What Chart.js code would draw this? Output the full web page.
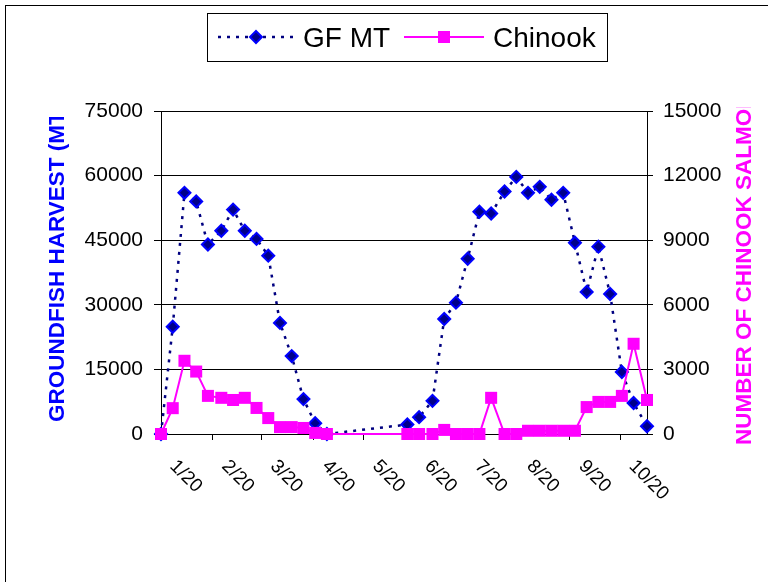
<!DOCTYPE html>
<html>
<head>
<meta charset="utf-8">
<script src="https://cdn.jsdelivr.net/npm/chart.js@4.4.1/dist/chart.umd.min.js"></script>
<style>
  html, body { margin: 0; padding: 0; background: #fff; }
  #wrap { position: relative; width: 768px; height: 582px; }
</style>
</head>
<body>
<div id="wrap"><canvas id="c"></canvas></div>
<script>
// ---- data (day of year, weekly observations) ----
const dayValues = [0, 7, 14, 21, 28, 36, 43, 50, 57, 64, 71, 78, 85, 92, 99,
                   147, 154, 162, 169, 176, 183, 190, 197, 205, 212, 219, 226, 233, 240, 247, 254, 261, 268, 275, 282, 290];
const gfMt = [0, 24900, 56000, 54000, 44000, 47200, 52100, 47200, 45300, 41400, 25800, 18100, 8100, 2500, 0,
              2200, 3900, 7700, 26700, 30500, 40700, 51600, 51200, 56300, 59700, 56000, 57400, 54400, 56000, 44400, 33000, 43500, 32500, 14400, 7200, 1800];
const chinook = [0, 1200, 3400, 2900, 1770, 1680, 1580, 1680, 1210, 740, 320, 320, 280, 50, 0,
                 0, 0, 0, 190, 0, 0, 0, 1680, 0, 0, 150, 150, 150, 150, 150, 1250, 1490, 1490, 1770, 4190, 1580];
const monthTickDays = [0, 31, 60, 91, 121, 152, 182, 213, 244, 274];
const monthLabels = ['1/20', '2/20', '3/20', '4/20', '5/20', '6/20', '7/20', '8/20', '9/20', '10/20'];
const seriesNames = ['GF MT', 'Chinook'];
const leftTitle = 'GROUNDFISH HARVEST (MT)';
const rightTitle = 'NUMBER OF CHINOOK SALMON';

const FONT = "'Liberation Sans', Arial, sans-serif";

const gfPoints = dayValues.map((d, i) => ({ x: d, y: gfMt[i] }));
const chPoints = dayValues.map((d, i) => ({ x: d, y: chinook[i] }));

function diamond(ctx, x, y, r, fill, stroke, lw) {
  ctx.save();
  ctx.beginPath();
  ctx.moveTo(x, y - r); ctx.lineTo(x + r, y); ctx.lineTo(x, y + r); ctx.lineTo(x - r, y); ctx.closePath();
  ctx.fillStyle = fill; ctx.fill();
  ctx.lineWidth = lw; ctx.strokeStyle = stroke; ctx.stroke();
  ctx.restore();
}

const decor = {
  id: 'decor',
  beforeDraw(chart) {
    const ctx = chart.ctx;
    ctx.save();
    ctx.fillStyle = '#fff';
    ctx.fillRect(0, 0, chart.width, chart.height);
    ctx.strokeStyle = '#000';
    ctx.lineWidth = 1;
    ctx.strokeRect(5.5, 5.5, 900, 900);
    ctx.restore();
  },
  afterDraw(chart) {
    const ctx = chart.ctx;
    const xs = chart.scales.x;
    // x tick labels rotated 45deg clockwise
    ctx.save();
    ctx.fillStyle = '#000';
    ctx.font = '19px ' + FONT;
    ctx.textAlign = 'left';
    ctx.textBaseline = 'alphabetic';
    monthTickDays.forEach((d, i) => {
      const px = xs.getPixelForValue(d);
      ctx.save();
      ctx.translate(px + 8, 467);
      ctx.rotate(Math.PI / 4);
      ctx.fillText(monthLabels[i], 0, 0);
      ctx.restore();
    });
    ctx.restore();

    // axis titles (clipped like the original)
    ctx.save();
    ctx.font = 'bold 22.5px ' + FONT;
    ctx.textAlign = 'left';
    ctx.textBaseline = 'middle';
    ctx.save();
    ctx.beginPath(); ctx.rect(0, 117, 140, 400); ctx.clip();
    ctx.translate(58, 422);
    ctx.rotate(-Math.PI / 2);
    ctx.fillStyle = '#0000FF';
    ctx.fillText(leftTitle, 0, 0);
    ctx.restore();
    ctx.save();
    ctx.beginPath(); ctx.rect(700, 107, 68, 400); ctx.clip();
    ctx.translate(745, 445);
    ctx.rotate(-Math.PI / 2);
    ctx.fillStyle = '#FF00FF';
    ctx.fillText(rightTitle, 0, 0);
    ctx.restore();
    ctx.restore();

    // legend
    ctx.save();
    ctx.fillStyle = '#fff';
    ctx.fillRect(207.5, 13.5, 400, 48);
    ctx.strokeStyle = '#000';
    ctx.lineWidth = 1;
    ctx.strokeRect(207.5, 13.5, 400, 48);
    const ly = 37;
    ctx.beginPath();
    ctx.setLineDash([3, 6]);
    ctx.strokeStyle = '#000080';
    ctx.lineWidth = 2.5;
    ctx.moveTo(218, ly); ctx.lineTo(294, ly);
    ctx.stroke();
    ctx.setLineDash([]);
    diamond(ctx, 256, ly, 6, '#00008B', '#0000FF', 2);
    ctx.beginPath();
    ctx.strokeStyle = '#FF00FF';
    ctx.lineWidth = 2;
    ctx.moveTo(404, ly); ctx.lineTo(484, ly);
    ctx.stroke();
    ctx.fillStyle = '#FF00FF';
    ctx.fillRect(438, ly - 6, 12, 12);
    ctx.fillStyle = '#000';
    ctx.font = '28px ' + FONT;
    ctx.textBaseline = 'alphabetic';
    ctx.textAlign = 'left';
    ctx.fillText(seriesNames[0], 303, 47);
    ctx.fillText(seriesNames[1], 493, 47);
    ctx.restore();
  }
};

new Chart(document.getElementById('c'), {
  type: 'line',
  data: {
    datasets: [
      {
        label: seriesNames[0],
        data: gfPoints,
        yAxisID: 'y',
        order: 1,
        borderColor: '#000080',
        borderWidth: 2.5,
        borderDash: [3, 6],
        pointStyle: 'rectRot',
        pointRadius: 6,
        pointBackgroundColor: '#00008B',
        pointBorderColor: '#0000FF',
        pointBorderWidth: 2,
        tension: 0,
        fill: false,
        clip: false
      },
      {
        label: seriesNames[1],
        data: chPoints,
        yAxisID: 'y1',
        order: 0,
        borderColor: '#FF00FF',
        borderWidth: 2,
        pointStyle: 'rect',
        pointRadius: 8.5,
        pointBackgroundColor: '#FF00FF',
        pointBorderColor: '#FF00FF',
        pointBorderWidth: 0,
        tension: 0,
        fill: false,
        clip: false
      }
    ]
  },
  options: {
    responsive: true,
    maintainAspectRatio: false,
    animation: false,
    devicePixelRatio: 1,
    layout: { padding: { top: 111, left: 0, right: 0, bottom: 0 } },
    plugins: { legend: { display: false }, tooltip: { enabled: false }, title: { display: false } },
    scales: {
      x: {
        type: 'linear',
        min: 0,
        max: 290,
        position: 'bottom',
        afterBuildTicks(scale) { scale.ticks = monthTickDays.map(v => ({ value: v })); },
        afterFit(scale) { scale.height = 148; },
        ticks: { autoSkip: false, callback: () => '', maxRotation: 0, font: { size: 1 } },
        grid: { drawOnChartArea: false, drawTicks: true, tickLength: 6, color: '#000', lineWidth: 1 },
        border: { display: true, color: '#000', width: 1 }
      },
      y: {
        position: 'left',
        min: 0,
        max: 75000,
        afterFit(scale) { scale.width = 161; },
        ticks: { stepSize: 15000, color: '#000', padding: 11, font: { family: FONT, size: 21 }, callback: v => String(v) },
        grid: { color: '#000', lineWidth: 1, tickLength: 7, drawTicks: true },
        border: { display: true, color: '#000', width: 1 }
      },
      y1: {
        position: 'right',
        min: 0,
        max: 15000,
        afterFit(scale) { scale.width = 121; },
        ticks: { stepSize: 3000, color: '#000', padding: 10, font: { family: FONT, size: 21 }, callback: v => String(v) },
        grid: { drawOnChartArea: false, color: '#000', lineWidth: 1, tickLength: 6, drawTicks: true },
        border: { display: true, color: '#000', width: 1 }
      }
    }
  },
  plugins: [decor]
});
</script>
</body>
</html>
